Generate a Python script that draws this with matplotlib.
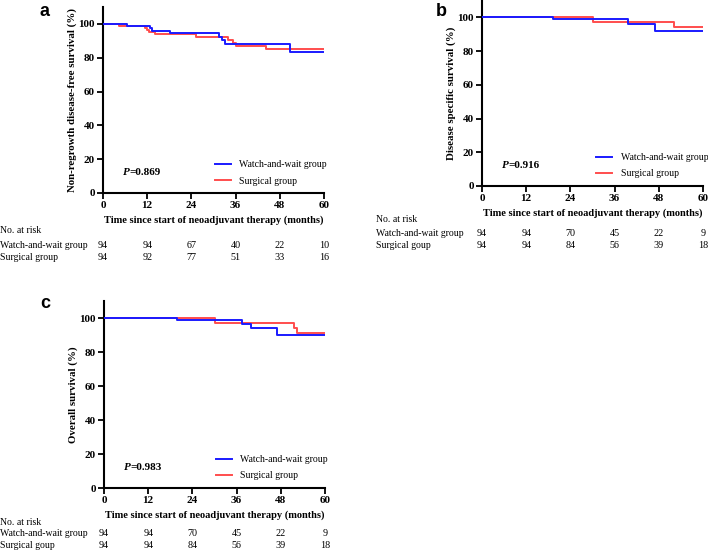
import matplotlib
matplotlib.use('Agg')
import matplotlib.pyplot as plt
from matplotlib.transforms import blended_transform_factory

plt.rcParams['font.family'] = ['Liberation Serif', 'DejaVu Serif']

W, H = 708, 552

months = [0, 12, 24, 36, 48, 60]
yticks = [0, 20, 40, 60, 80, 100]
groups = ['Watch-and-wait group', 'Surgical group']

# %% panel a: non-regrowth disease-free survival
a_ww_t = [0, 6.6, 12.8, 13.2, 18.2, 31.6, 32.3, 33.2, 50.8, 60]
a_ww_s = [100, 99.0, 97.8, 95.9, 94.5, 92.2, 90.4, 88.3, 83.5, 83.5]
a_sg_t = [0, 4.3, 11.4, 11.9, 12.6, 14.1, 25.3, 34.0, 35.2, 36.1, 44.2, 60]
a_sg_s = [100, 99.0, 97.8, 96.6, 95.4, 93.9, 92.3, 90.5, 88.8, 87.2, 85.0, 85.0]
a_risk_ww = [94, 94, 67, 40, 22, 10]
a_risk_sg = [94, 92, 77, 51, 33, 16]

# %% panel b: disease specific survival
b_ww_t = [0, 19.4, 39.7, 47.0, 60]
b_ww_s = [100, 98.8, 96.1, 92.0, 92.0]
b_sg_t = [0, 30.0, 52.2, 60]
b_sg_s = [100, 97.3, 94.1, 94.1]
b_risk_ww = [94, 94, 70, 45, 22, 9]
b_risk_sg = [94, 94, 84, 56, 39, 18]

# %% panel c: overall survival
c_ww_t = [0, 19.7, 37.4, 40.0, 47.1, 60]
c_ww_s = [100, 98.8, 96.5, 93.9, 89.9, 89.9]
c_sg_t = [0, 30.1, 51.6, 52.3, 60]
c_sg_s = [100, 97.0, 94.3, 91.1, 91.1]
c_risk_ww = [94, 94, 70, 45, 22, 9]
c_risk_sg = [94, 94, 84, 56, 39, 18]

BLUE = '#1a1aff'
RED = '#ff4d4d'
FS = 7.5
TFS = 8


def px_axes(fig, left, top, right, bottom):
    return fig.add_axes([left / W, 1 - bottom / H, (right - left) / W, (bottom - top) / H])


def km_panel(ax, ww_t, ww_s, sg_t, sg_s, ylabel, pval, leg_anchor):
    ax.step(ww_t, ww_s, where='post', color=BLUE, lw=1.4, label=groups[0], zorder=3)
    ax.step(sg_t, sg_s, where='post', color=RED, lw=1.4, label=groups[1], zorder=2)
    ax.set_xlim(0, 60)
    ax.set_ylim(0, 110)
    ax.set_xticks(months)
    ax.set_yticks(yticks)
    for s in ['top', 'right']:
        ax.spines[s].set_visible(False)
    for s in ['left', 'bottom']:
        ax.spines[s].set_linewidth(1.5)
    ax.tick_params(direction='out', length=4, width=1.3, labelsize=TFS, pad=2)
    for lab in ax.get_xticklabels() + ax.get_yticklabels():
        lab.set_fontweight('bold')
    ax.set_xlabel('Time since start of neoadjuvant therapy (months)',
                  fontsize=FS, fontweight='bold', labelpad=4)
    ax.set_ylabel(ylabel, fontsize=7.8, fontweight='bold', labelpad=1)
    tp = ax.text(5.3, 12, 'P', fontsize=TFS, va='center', fontweight='bold', fontstyle='italic')
    ax.annotate('=' + pval, xy=(1, 0.5), xycoords=tp, fontsize=TFS, va='center',
                fontweight='bold')
    ax.legend(loc='lower left', bbox_to_anchor=leg_anchor, frameon=False,
              fontsize=7, handlelength=1.6, handletextpad=0.9, labelspacing=0.75,
              borderaxespad=0)


def risk_table(fig, ax, label_x, ys, names, counts):
    tr = blended_transform_factory(ax.transData, fig.transFigure)
    fig.text(label_x / W, 1 - ys[0] / H, 'No. at risk', fontsize=7, va='center')
    for y, name, row in zip(ys[1:], names, counts):
        fig.text(label_x / W, 1 - y / H, name, fontsize=7, va='center')
        for m, n in zip(months, row):
            ax.text(m, 1 - y / H, str(n), transform=tr, fontsize=7.3,
                    ha='center', va='center', clip_on=False)


fig = plt.figure(figsize=(W / 100, H / 100), dpi=100)

ax_a = px_axes(fig, 103, 7, 324, 193)
km_panel(ax_a, a_ww_t, a_ww_s, a_sg_t, a_sg_s,
         'Non-regrowth disease-free survival (%)', '0.869', (0.49, 0.018))
risk_table(fig, ax_a, 0, [230, 245, 257], ['Watch-and-wait group', 'Surgical group'],
           [a_risk_ww, a_risk_sg])

ax_b = px_axes(fig, 482, 0.5, 703, 186)
km_panel(ax_b, b_ww_t, b_ww_s, b_sg_t, b_sg_s,
         'Disease specific survival (%)', '0.916', (0.5, 0.02))
risk_table(fig, ax_b, 376, [220, 233, 245], ['Watch-and-wait group', 'Surgical goup'],
           [b_risk_ww, b_risk_sg])

ax_c = px_axes(fig, 104, 301, 325, 488)
km_panel(ax_c, c_ww_t, c_ww_s, c_sg_t, c_sg_s,
         'Overall survival (%)', '0.983', (0.49, 0.02))
risk_table(fig, ax_c, 0, [522.7, 534, 545], ['Watch-and-wait group', 'Surgical goup'],
           [c_risk_ww, c_risk_sg])

for lab, x, y in [('a', 45, 12), ('b', 441, 12), ('c', 45, 303)]:
    fig.text(x / W, 1 - y / H, lab, fontsize=13, fontweight='bold',
             family='Liberation Sans', ha='center', va='center')

fig.savefig('out.png', dpi=100)
